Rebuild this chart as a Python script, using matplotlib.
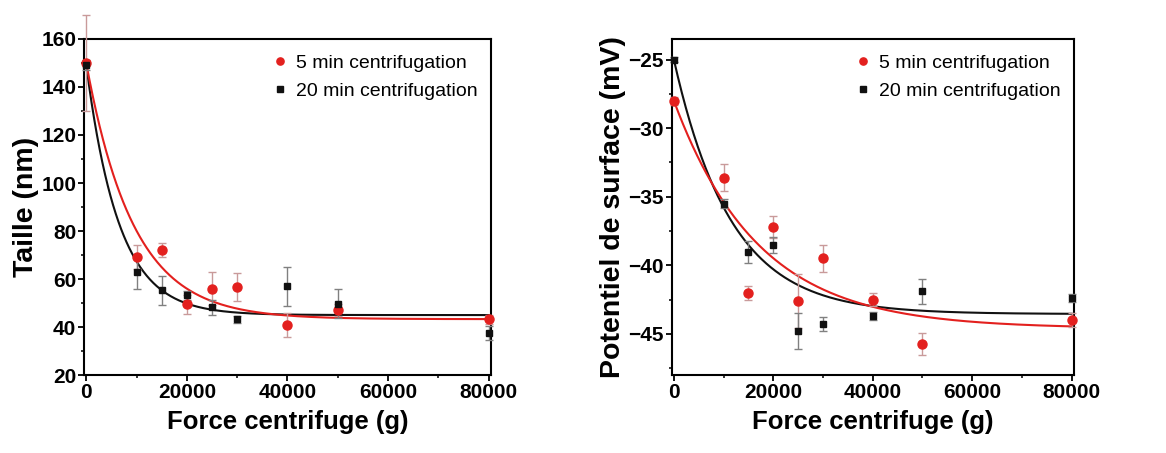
import numpy as np
import matplotlib
matplotlib.use('Agg')
import matplotlib.pyplot as plt
from matplotlib.ticker import MultipleLocator

plt.rcParams['font.family'] = ['Liberation Sans', 'DejaVu Sans']

# centrifugal force (g)
force = [0, 10000, 15000, 20000, 25000, 30000, 40000, 50000, 80000]

# particle size (nm)
size_5min = [150, 69, 72, 49.5, 56, 56.7, 40.8, 47, 43.2]
size_5min_err = [20, 5, 3, 4, 7, 6, 5, 2.5, 2]
size_20min = [149.2, 62.8, 55.3, 53.2, 48.2, 43.2, 56.9, 49.7, 37.6]
size_20min_err = [2, 7, 6, 2, 3, 1.5, 8, 6, 3]

# surface potential (mV)
zeta_5min = [-28, -33.6, -42.0, -37.2, -42.6, -39.5, -42.5, -45.7, -44.0]
zeta_5min_err = [0.3, 1.0, 0.5, 0.8, 2.0, 1.0, 0.5, 0.8, 0.5]
zeta_20min = [-25, -35.5, -39.0, -38.5, -44.8, -44.3, -43.7, -41.9, -42.4]
zeta_20min_err = [0.2, 0.3, 0.8, 0.6, 1.3, 0.5, 0.3, 0.9, 0.3]

# exponential decay fits y = y0 + A*exp(-x/t)
fit_size_5min = (43.3, 106.7, 9400)
fit_size_20min = (45.0, 104.2, 6500)
fit_zeta_5min = (-44.6, 16.6, 17000)
fit_zeta_20min = (-43.55, 18.55, 11500)

RED = '#e3201e'
BLACK = '#111111'


def decay(x, p):
  y0, a, t = p
  return y0 + a * np.exp(-x / t)


def panel(ax, y5, e5, y20, e20, f5, f20):
  xs = np.linspace(0, 80000, 600)
  ax.plot(xs, decay(xs, f20), color=BLACK, lw=1.5, zorder=2)
  ax.plot(xs, decay(xs, f5), color=RED, lw=1.5, zorder=2)
  r = ax.errorbar(force, y5, yerr=e5, fmt='o', color=RED, ms=6.5,
                  ecolor='#c99a9a', elinewidth=1, capsize=3, capthick=1,
                  label='5 min centrifugation', zorder=3)
  b = ax.errorbar(force, y20, yerr=e20, fmt='s', color=BLACK, ms=5,
                  ecolor='#808080', elinewidth=1, capsize=3, capthick=1,
                  label='20 min centrifugation', zorder=3)
  for c in (r, b):
    for art in c.lines[1] + c.lines[2]:
      art.set_clip_on(False)
    c.lines[0].set_clip_on(False)
  ax.set_xlim(-450, 80450)
  ax.xaxis.set_major_locator(MultipleLocator(20000))
  ax.xaxis.set_minor_locator(MultipleLocator(10000))
  ax.set_xlabel('Force centrifuge (g)', fontsize=18.5, fontweight='bold', labelpad=6)
  for s in ax.spines.values():
    s.set_linewidth(1.5)
  ax.tick_params(which='major', direction='out', length=4, width=1.3,
                 labelsize=15, pad=1.5)
  ax.tick_params(which='minor', direction='out', length=2.5, width=1.1)
  h, l = ax.get_legend_handles_labels()
  ax.legend([x[0] for x in h], l, loc='upper right', frameon=False,
            fontsize=14, handletextpad=0.25, handlelength=1.1,
            borderaxespad=0.3, labelspacing=0.55, markerscale=0.8,
            bbox_to_anchor=(1.0, 0.995))


fig = plt.figure(figsize=(11.66, 4.53), dpi=100)
ax1 = fig.add_axes([0.072, 0.172, 0.349, 0.742])
ax2 = fig.add_axes([0.576, 0.172, 0.345, 0.742])

panel(ax1, size_5min, size_5min_err, size_20min, size_20min_err,
      fit_size_5min, fit_size_20min)
ax1.set_ylim(20, 160)
ax1.yaxis.set_major_locator(MultipleLocator(20))
ax1.yaxis.set_minor_locator(MultipleLocator(10))
ax1.set_ylabel('Taille (nm)', fontsize=20.5, fontweight='bold', labelpad=2)

panel(ax2, zeta_5min, zeta_5min_err, zeta_20min, zeta_20min_err,
      fit_zeta_5min, fit_zeta_20min)
ax2.set_ylim(-48, -23.5)
ax2.yaxis.set_major_locator(MultipleLocator(5))
ax2.yaxis.set_minor_locator(MultipleLocator(2.5))
ax2.set_ylabel('Potentiel de surface (mV)', fontsize=20.5, fontweight='bold', labelpad=2)

for ax in (ax1, ax2):
  for lab in ax.get_xticklabels() + ax.get_yticklabels():
    lab.set_fontweight('bold')

fig.savefig('out.png', dpi=100)
